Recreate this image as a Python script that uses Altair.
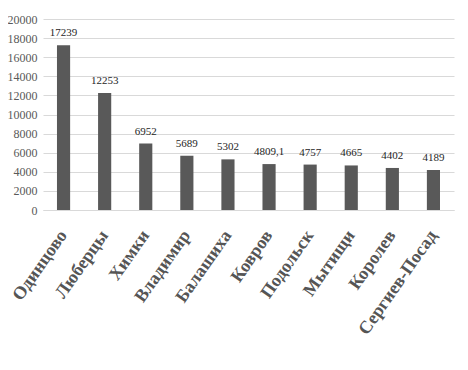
import altair as alt
import pandas as pd

cities = ["Одинцово", "Люберцы", "Химки", "Владимир", "Балашиха", "Ковров",
          "Подольск", "Мытищи", "Королев", "Сергиев-Посад"]
values = [17239, 12253, 6952, 5689, 5302, 4809.1, 4757, 4665, 4402, 4189]
labels = ["17239", "12253", "6952", "5689", "5302", "4809,1", "4757", "4665", "4402", "4189"]
y_ticks = [0, 2000, 4000, 6000, 8000, 10000, 12000, 14000, 16000, 18000, 20000]

df = pd.DataFrame({"city": cities, "value": values, "label": labels})

FONT = "Liberation Serif"

x = alt.X("city:N", sort=cities, title=None,
          scale=alt.Scale(paddingInner=0.68, paddingOuter=0.34),
          axis=alt.Axis(labelAngle=-55, labelAlign="right", labelBaseline="middle",
                        labelFont=FONT, labelFontSize=18, labelFontWeight="bold",
                        labelColor="#555555", ticks=False, labelPadding=22,
                        domainColor="#d9d9d9", labelOverlap=False, labelLimit=300))
y = alt.Y("value:Q", title=None,
          scale=alt.Scale(domain=[0, 20000], nice=False),
          axis=alt.Axis(values=y_ticks, format="d", labelFont=FONT,
                        labelFontSize=12, labelColor="#595959", ticks=False,
                        domain=False, gridColor="#d9d9d9", labelPadding=6,
                        labelOverlap=False, tickCount=11))

base = alt.Chart(df).encode(x=x, y=y)
bars = base.mark_bar(color="#595959")
text = base.mark_text(baseline="bottom", dy=-7, font=FONT, fontSize=11,
                      color="#262626").encode(text="label:N")

chart = alt.layer(bars, text).properties(
    width=411, height=191,
    autosize=alt.AutoSizeParams(type="none"),
    padding={"left": 35, "top": 11, "right": 6, "bottom": 150},
).configure_view(stroke=None)

chart.save("out.html", embed_options={"renderer": "svg", "actions": False})
